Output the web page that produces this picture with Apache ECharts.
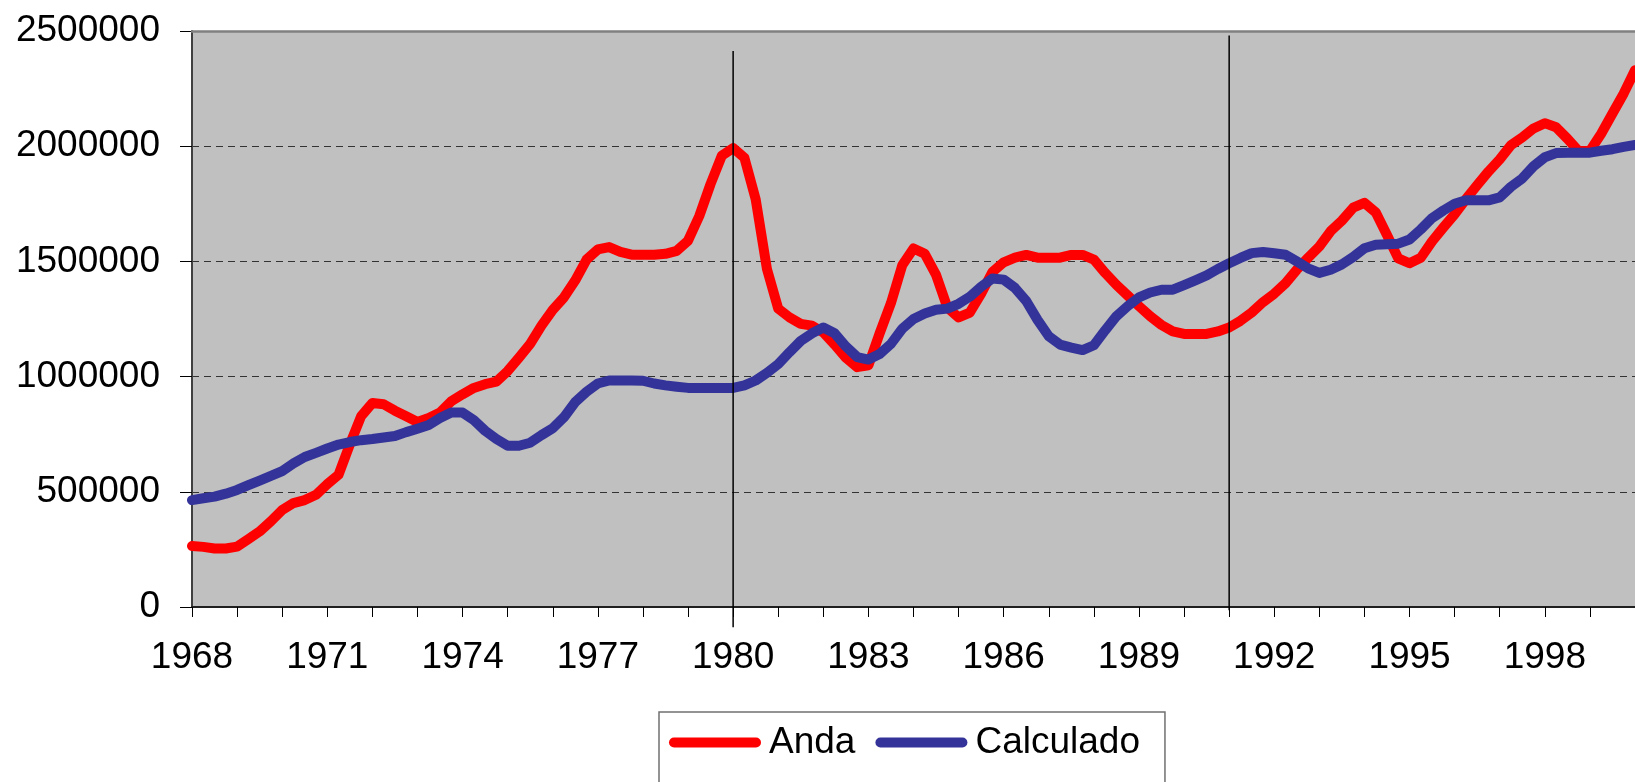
<!DOCTYPE html>
<html>
<head>
<meta charset="utf-8">
<script src="https://cdn.jsdelivr.net/npm/echarts@6/dist/echarts.min.js"></script>
<style>
html,body{margin:0;padding:0;background:#fff;}
#chart{width:1635px;height:782px;}
</style>
</head>
<body>
<div id="chart"></div>
<script>
// Time axis: quarterly observations 1968 Q1 .. 2000 Q1
const years = [1968,1969,1970,1971,1972,1973,1974,1975,1976,1977,1978,1979,1980,1981,1982,1983,
               1984,1985,1986,1987,1988,1989,1990,1991,1992,1993,1994,1995,1996,1997,1998,1999,2000];
const quarterNames = ['T1','T2','T3','T4'];

// Series names
const seriesNames = ['Anda', 'Calculado'];

// Anda (observed), quarterly
const anda = [
  265000, 261000, 254000, 254000,
  262000, 295000, 328000, 372000,
  421000, 451000, 464000, 487000,
  533000, 574000, 705000, 828000,
  885000, 880000, 852000, 828000,
  803000, 820000, 844000, 893000,
  923000, 951000, 967000, 978000,
  1024000, 1082000, 1142000, 1221000,
  1290000, 1344000, 1418000, 1508000,
  1552000, 1562000, 1541000, 1529000,
  1529000, 1529000, 1533000, 1546000,
  1590000, 1697000, 1836000, 1959000,
  1992000, 1950000, 1770000, 1467000,
  1295000, 1257000, 1229000, 1221000,
  1192000, 1139000, 1082000, 1041000,
  1049000, 1188000, 1319000, 1483000,
  1556000, 1533000, 1442000, 1300000,
  1257000, 1278000, 1360000, 1454000,
  1496000, 1516000, 1528000, 1516000,
  1516000, 1516000, 1528000, 1528000,
  1508000, 1450000, 1398000, 1352000,
  1306000, 1262000, 1224000, 1196000,
  1185000, 1185000, 1185000, 1196000,
  1213000, 1242000, 1278000, 1323000,
  1360000, 1405000, 1464000, 1516000,
  1565000, 1631000, 1677000, 1733000,
  1754000, 1713000, 1615000, 1513000,
  1492000, 1516000, 1587000, 1647000,
  1705000, 1770000, 1831000, 1890000,
  1943000, 2005000, 2038000, 2077000,
  2100000, 2082000, 2033000, 1979000,
  1979000, 2054000, 2142000, 2229000,
  2330000
];

// Calculado (model), quarterly
const calculado = [
  464000, 472000, 479000, 492000,
  508000, 529000, 549000, 569000,
  590000, 623000, 651000, 669000,
  688000, 705000, 716000, 724000,
  729000, 736000, 742000, 759000,
  774000, 790000, 820000, 844000,
  844000, 811000, 765000, 729000,
  700000, 700000, 713000, 746000,
  776000, 824000, 890000, 934000,
  970000, 983000, 983000, 983000,
  982000, 970000, 962000, 956000,
  951000, 951000, 951000, 951000,
  951000, 962000, 983000, 1016000,
  1054000, 1106000, 1155000, 1188000,
  1213000, 1188000, 1131000, 1085000,
  1074000, 1098000, 1142000, 1208000,
  1250000, 1274000, 1290000, 1295000,
  1316000, 1347000, 1390000, 1426000,
  1421000, 1385000, 1328000, 1246000,
  1175000, 1139000, 1126000, 1115000,
  1136000, 1201000, 1262000, 1306000,
  1344000, 1365000, 1377000, 1377000,
  1397000, 1418000, 1439000, 1467000,
  1492000, 1515000, 1536000, 1541000,
  1535000, 1529000, 1500000, 1470000,
  1450000, 1464000, 1487000, 1519000,
  1557000, 1572000, 1574000, 1577000,
  1595000, 1639000, 1688000, 1721000,
  1750000, 1765000, 1765000, 1765000,
  1778000, 1824000, 1860000, 1913000,
  1952000, 1970000, 1972000, 1972000,
  1972000, 1980000, 1987000, 1997000,
  2005000
];

// Y tick values
const yTicks = [0, 500000, 1000000, 1500000, 2000000, 2500000];

// Vertical reference lines (period, value at top end, value at bottom end)
const refLinePeriods = ['1980 T1', '1991 T1'];
const refLineTop = [2413000, 2480000];
const refLineBottom = [-88000, -14000];

// Build quarterly category labels
const categories = [];
years.forEach(y => quarterNames.forEach(q => categories.push(y + ' ' + q)));
categories.length = anda.length;

const FONT = "'Liberation Sans', Arial, sans-serif";
const FS = 37;

const chart = echarts.init(document.getElementById('chart'), null, {renderer: 'canvas'});

const refLineData = refLinePeriods.map((p, i) => [categories.indexOf(p), refLineTop[i], refLineBottom[i]]);

chart.setOption({
  animation: false,
  backgroundColor: '#ffffff',
  textStyle: {fontFamily: FONT},
  grid: {
    left: 192, top: 31, right: -6, bottom: 175,
    show: true, backgroundColor: '#C0C0C0', borderWidth: 0
  },
  legend: {
    data: seriesNames,
    left: 659, top: 712,
    orient: 'horizontal',
    backgroundColor: '#ffffff',
    borderColor: '#707070', borderWidth: 1.5, borderRadius: 0,
    padding: [12, 25, 40, 10],
    itemWidth: 92, itemHeight: 10, itemGap: 20,
    icon: 'path://M5,0H87A5,5,0,0,1,87,10H5A5,5,0,0,1,5,0Z',
    textStyle: {fontSize: FS, color: '#000', fontFamily: FONT, padding: [0, 0, 0, 3]}
  },
  xAxis: [{
    type: 'category',
    data: categories,
    boundaryGap: false,
    axisLine: {show: true, onZero: false, lineStyle: {color: '#202020', width: 2}},
    axisTick: {show: true, interval: 3, length: 10, lineStyle: {color: '#000', width: 1}},
    axisLabel: {
      interval: 11, margin: 32, fontSize: FS, color: '#000', fontFamily: FONT,
      formatter: v => v.split(' ')[0]
    },
    splitLine: {show: false}
  }, {
    type: 'category',
    data: categories,
    boundaryGap: false,
    position: 'top',
    axisLine: {show: true, onZero: false, lineStyle: {color: '#808080', width: 2.5}},
    axisTick: {show: false},
    axisLabel: {show: false},
    splitLine: {show: false},
    z: 5
  }],
  yAxis: {
    type: 'value',
    min: yTicks[0], max: yTicks[yTicks.length - 1], interval: 500000,
    axisLine: {show: true, lineStyle: {color: '#404040', width: 2}},
    axisTick: {show: true, length: 12, lineStyle: {color: '#000', width: 1}},
    axisLabel: {margin: 32, fontSize: FS, color: '#000', fontFamily: FONT, formatter: v => String(v)},
    splitLine: {show: true, lineStyle: {color: '#333333', width: 1, type: [7, 5]}}
  },
  series: [{
    name: seriesNames[0],
    type: 'line',
    data: anda,
    showSymbol: false,
    symbol: 'none',
    smooth: false,
    lineStyle: {color: '#FF0000', width: 10, cap: 'round', join: 'round'},
    itemStyle: {color: '#FF0000'},
    z: 3
  }, {
    name: seriesNames[1],
    type: 'line',
    data: calculado,
    showSymbol: false,
    symbol: 'none',
    smooth: false,
    lineStyle: {color: '#333399', width: 10, cap: 'round', join: 'round'},
    itemStyle: {color: '#333399'},
    z: 4
  }, {
    name: 'refLines',
    type: 'custom',
    silent: true,
    clip: false,
    z: 6,
    data: refLineData,
    renderItem: function (params, api) {
      const x = api.value(0);
      const p1 = api.coord([x, api.value(1)]);
      const p2 = api.coord([x, api.value(2)]);
      return {
        type: 'line',
        shape: {x1: p1[0], y1: p1[1], x2: p2[0], y2: p2[1]},
        style: {stroke: '#000', lineWidth: 1.5}
      };
    }
  }]
});
</script>
</body>
</html>
